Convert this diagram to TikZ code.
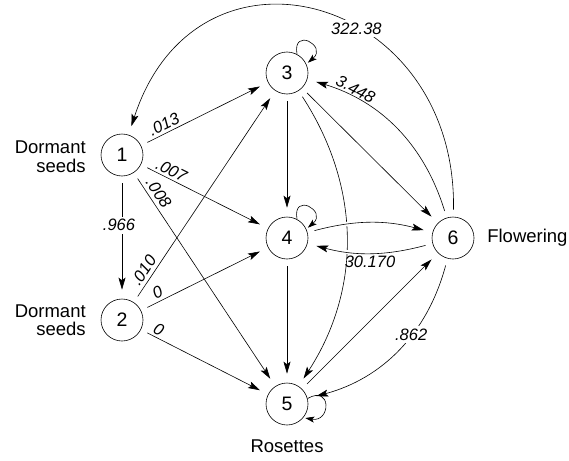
\documentclass[tikz,border=0pt]{standalone}
\usepackage{fontspec}
\setmainfont{Liberation Sans}
\usetikzlibrary{arrows.meta}

\tikzset{
  state/.style={circle, draw, minimum size=42pt, inner sep=0pt, font=\fontsize{19.5}{22}\selectfont},
  stage/.style={inner sep=0pt, align=right, font=\fontsize{18.5}{18.5}\selectfont},
  rate/.style={inner sep=2.5pt, font=\fontsize{16.5}{18}\selectfont\itshape},
  link/.style={-{Stealth[length=12pt,width=7pt,inset=2.5pt]}, shorten <=7pt, shorten >=9pt},
  selfloop/.style={-{Stealth[length=9pt,width=6pt,inset=2pt]}, shorten >=2pt, min distance=28pt}
}

\begin{document}
\begin{tikzpicture}[x=1pt, y=-1pt, line width=0.6pt, line join=round]
  \useasboundingbox (0,0) rectangle (569,460);
  % stages
  \node[state] (n1) at (122,155) {1};
  \node[state] (n2) at (122,320) {2};
  \node[state] (n3) at (287,73) {3};
  \node[state] (n4) at (287,238) {4};
  \node[state] (n5) at (287,404) {5};
  \node[state] (n6) at (453,238) {6};
  \node[stage, anchor=east] (s1) at (86,156.5) {Dormant\\seeds};
  \node[stage, anchor=east] (s2) at (86,320) {Dormant\\seeds};
  \node[stage, anchor=west] (s6) at (487,238) {Flowering};
  \node[stage] (s5) at (287,446.5) {Rosettes};
  % transitions
  \draw[link] (n1) -- node[rate, sloped, above, pos=.21] {.013} (n3);
  \draw[link] (n1) -- node[rate, sloped, above, pos=.21] {.007} (n4);
  \draw[link] (n1) -- node[rate, sloped, above, pos=.12, inner sep=3.5pt] {.008} (n5);
  \draw[link] (n1) -- node[rate, fill=white, xshift=-3pt, pos=.4] {.966} (n2);
  \draw[link] (n2) -- node[rate, sloped, above, pos=.125, inner sep=3.5pt] {.010} (n3);
  \draw[link] (n2) -- node[rate, sloped, above, pos=.16] {0} (n4);
  \draw[link] (n2) -- node[rate, sloped, above, pos=.11] {0} (n5);
  \draw[link] (n3) -- (n4);
  \draw[link] (n4) -- (n5);
  \draw[link] (n3) -- (n6);
  \draw[link] (n5) -- (n6);
  \draw[link] (n3) to[bend left=33] (n5);
  \draw[link, preaction={draw, white, line width=4pt, -}] (n4) to[bend left=15] (n6);
  \draw[link, preaction={draw, white, line width=4pt, -}] (n6) to[bend left=15] node[rate, below] {30.170} (n4);
  \draw[link] (n6) to[bend right=28] node[rate, sloped, above, pos=.78] {3.448} (n3);
  \draw[link] (n6) to[bend left=30] node[rate, fill=white, pos=.4] {.862} (n5);
  \draw[link] (n6) to[out=89, in=72, looseness=1.7] node[rate, fill=white, pos=.41] {322.38} (n1);
  % loops
  \draw[selfloop] (n3.62) to[out=100, in=40] (n3.25);
  \draw[selfloop] (n4.62) to[out=100, in=40] (n4.25);
  \draw[selfloop] (n5.15) to[out=30, in=-10] (n5.-40);
\end{tikzpicture}
\end{document}
